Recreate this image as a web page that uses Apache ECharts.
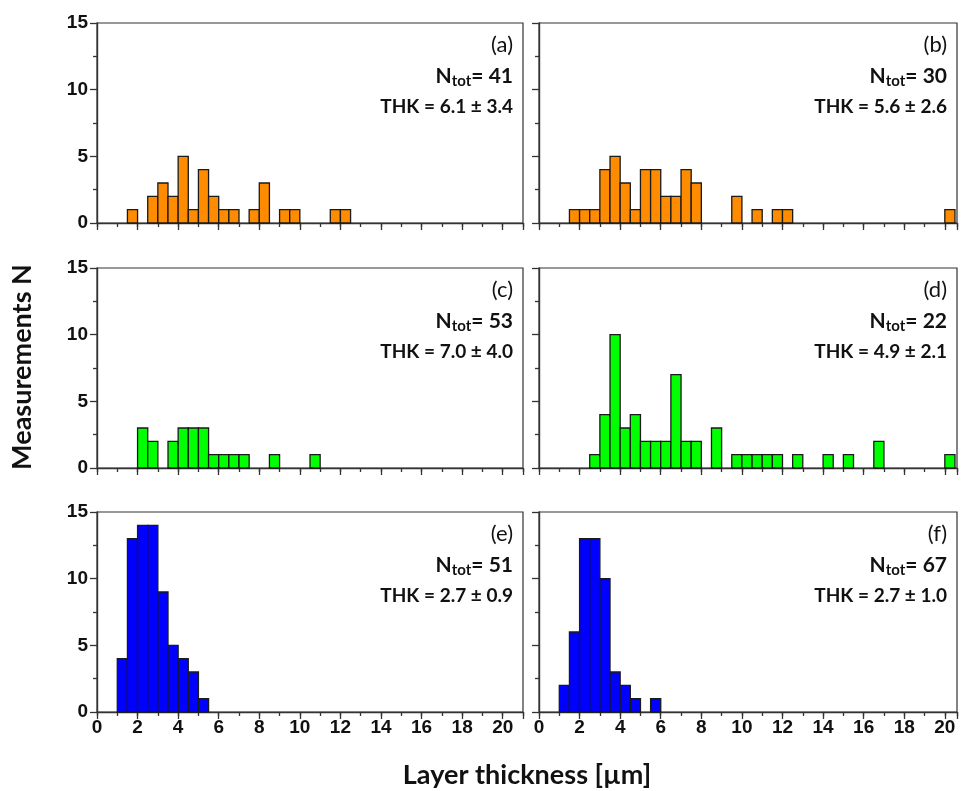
<!DOCTYPE html>
<html>
<head>
<meta charset="utf-8">
<script src="https://cdn.jsdelivr.net/npm/echarts@6/dist/echarts.min.js"></script>
<style>
  html, body { margin: 0; padding: 0; background: #fff; }
  #chart { width: 965px; height: 791px; }
</style>
</head>
<body>
<div id="chart"></div>
<script>
// bin width of every histogram, in µm
const BIN = 0.5;

// left edge of each filled bin and its count, one pair of arrays per panel
const binsA = [1.5, 2.5, 3.0, 3.5, 4.0, 4.5, 5.0, 5.5, 6.0, 6.5, 7.5, 8.0, 9.0, 9.5, 11.5, 12.0];
const countsA = [1, 2, 3, 2, 5, 1, 4, 2, 1, 1, 1, 3, 1, 1, 1, 1];

const binsB = [1.5, 2.0, 2.5, 3.0, 3.5, 4.0, 4.5, 5.0, 5.5, 6.0, 6.5, 7.0, 7.5, 9.5, 10.5, 11.5, 12.0, 20.0];
const countsB = [1, 1, 1, 4, 5, 3, 1, 4, 4, 2, 2, 4, 3, 2, 1, 1, 1, 1];

const binsC = [2.0, 2.5, 3.5, 4.0, 4.5, 5.0, 5.5, 6.0, 6.5, 7.0, 8.5, 10.5];
const countsC = [3, 2, 2, 3, 3, 3, 1, 1, 1, 1, 1, 1];

const binsD = [2.5, 3.0, 3.5, 4.0, 4.5, 5.0, 5.5, 6.0, 6.5, 7.0, 7.5, 8.5, 9.5, 10.0, 10.5, 11.0, 11.5, 12.5, 14.0, 15.0, 16.5, 20.0];
const countsD = [1, 4, 10, 3, 4, 2, 2, 2, 7, 2, 2, 3, 1, 1, 1, 1, 1, 1, 1, 1, 2, 1];

const binsE = [1.0, 1.5, 2.0, 2.5, 3.0, 3.5, 4.0, 4.5, 5.0];
const countsE = [4, 13, 14, 14, 9, 5, 4, 3, 1];

const binsF = [1.0, 1.5, 2.0, 2.5, 3.0, 3.5, 4.0, 4.5, 5.5];
const countsF = [2, 6, 13, 13, 10, 3, 2, 1, 1];

const panelTags = ['(a)', '(b)', '(c)', '(d)', '(e)', '(f)'];
const nTot = [41, 30, 53, 22, 51, 67];
const thk = ['6.1 ± 3.4', '5.6 ± 2.6', '7.0 ± 4.0', '4.9 ± 2.1', '2.7 ± 0.9', '2.7 ± 1.0'];

const panelBins = [binsA, binsB, binsC, binsD, binsE, binsF];
const panelCounts = [countsA, countsB, countsC, countsD, countsE, countsF];
const panelColors = ['#ff8c00', '#ff8c00', '#00ff00', '#00ff00', '#0000ff', '#0000ff'];

const AXIS = '#333';
const TICK_FONT = '"Liberation Sans", Arial, sans-serif';
const TEXT_FONT = 'Lato, "Open Sans", sans-serif';

const ROW_TOP = [23, 268, 512];
const ROW_H = 200;
const COL = [
  { left: 97, width: 426, max: 21 },
  { left: 539, width: 418, max: 20.6 },
];

function renderBar(params, api) {
  const x0 = api.value(0);
  const top = api.coord([x0, api.value(1)]);
  const base = api.coord([x0 + BIN, 0]);
  return {
    type: 'rect',
    shape: { x: top[0], y: top[1], width: base[0] - top[0], height: base[1] - top[1] },
    style: { fill: api.visual('color'), stroke: '#1a1a1a', lineWidth: 1.3 },
  };
}

const grid = [];
const xAxis = [];
const yAxis = [];
const series = [];
const graphic = [];

for (let i = 0; i < 6; i++) {
  const row = Math.floor(i / 2);
  const col = COL[i % 2];
  const bottomRow = row === 2;
  const leftCol = i % 2 === 0;

  grid.push({
    left: col.left, top: ROW_TOP[row], width: col.width, height: ROW_H,
    show: true, borderColor: AXIS, borderWidth: 1.2, backgroundColor: 'transparent',
  });

  // major x ticks and labels
  xAxis.push({
    type: 'value', gridIndex: i, min: 0, max: col.max, interval: 2,
    axisLine: { show: true, lineStyle: { color: AXIS, width: 1.4 } },
    axisTick: { show: true, length: 7, lineStyle: { color: AXIS, width: 1.3 } },
    splitLine: { show: false },
    axisLabel: {
      show: bottomRow, margin: 6, color: '#111', fontFamily: TICK_FONT, fontWeight: 'bold', fontSize: 19,
      formatter: (v) => (v % 2 === 0 && v <= 20 ? String(v) : ''),
    },
  });
  // minor x ticks at odd values
  xAxis.push({
    type: 'value', gridIndex: i, min: 0, max: col.max, interval: 1, position: 'bottom',
    axisLine: { show: false },
    axisTick: { show: true, length: 4, lineStyle: { color: AXIS, width: 1.3 } },
    splitLine: { show: false },
    axisLabel: { show: false },
  });

  yAxis.push({
    type: 'value', gridIndex: i, min: 0, max: 15, interval: 5,
    axisLine: { show: true, lineStyle: { color: AXIS, width: 1.4 } },
    axisTick: { show: true, length: 7, lineStyle: { color: AXIS, width: 1.3 } },
    minorTick: { show: true, splitNumber: 2, length: 4, lineStyle: { color: AXIS, width: 1.3 } },
    splitLine: { show: false },
    minorSplitLine: { show: false },
    axisLabel: {
      show: leftCol, margin: 9, color: '#111', fontFamily: TICK_FONT, fontWeight: 'bold', fontSize: 19,
    },
  });

  series.push({
    type: 'custom',
    xAxisIndex: i * 2,
    yAxisIndex: i,
    renderItem: renderBar,
    itemStyle: { color: panelColors[i] },
    encode: { x: 0, y: 1 },
    data: panelBins[i].map((b, k) => [b, panelCounts[i][k]]),
    silent: true,
  });

  const tx = col.left + col.width - 10;
  const ty = ROW_TOP[row];
  graphic.push({
    type: 'text', x: tx, y: ty + 22,
    style: { text: panelTags[i], align: 'right', verticalAlign: 'middle', font: '22px ' + TEXT_FONT, fill: '#111' },
  });
  graphic.push({
    type: 'text', x: tx, y: ty + 53,
    style: {
      text: '{n|N}{s|tot}{n|= ' + nTot[i] + '}',
      align: 'right', verticalAlign: 'middle',
      rich: {
        n: { fontFamily: TEXT_FONT, fontWeight: 'bold', fontSize: 21, lineHeight: 26, fill: '#111' },
        s: { fontFamily: TEXT_FONT, fontWeight: 'bold', fontSize: 15, lineHeight: 13, verticalAlign: 'bottom', fill: '#111' },
      },
    },
  });
  graphic.push({
    type: 'text', x: tx, y: ty + 84,
    style: { text: 'THK = ' + thk[i], align: 'right', verticalAlign: 'middle', font: 'bold 19px ' + TEXT_FONT, fill: '#111' },
  });
}

graphic.push({
  type: 'text', x: 22, y: 367, rotation: Math.PI / 2,
  style: { text: 'Measurements N', align: 'center', verticalAlign: 'middle', font: 'bold 27px ' + TEXT_FONT, fill: '#111' },
});
graphic.push({
  type: 'text', x: 527, y: 775,
  style: { text: 'Layer thickness [µm]', align: 'center', verticalAlign: 'middle', font: 'bold 27px ' + TEXT_FONT, fill: '#111' },
});

const chart = echarts.init(document.getElementById('chart'), null, { renderer: 'canvas' });
chart.setOption({
  animation: false,
  backgroundColor: '#fff',
  grid, xAxis, yAxis, series, graphic,
});
</script>
</body>
</html>
